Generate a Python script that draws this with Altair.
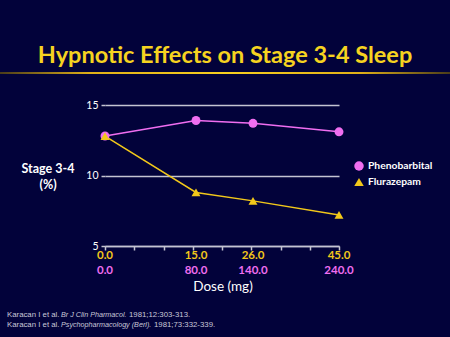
import altair as alt
import pandas as pd

# ---- data ----
flur_dose = [0.0, 15.0, 26.0, 45.0]
pheno_dose = [0.0, 80.0, 140.0, 240.0]
pheno_vals = [12.8, 13.9, 13.7, 13.1]
flur_vals = [12.8, 8.8, 8.2, 7.2]
series_names = ["Phenobarbital", "Flurazepam"]
y_ticks = [5, 10, 15]
x_minor_ticks = list(range(9))
title_text = "Hypnotic Effects on Stage 3-4 Sleep"
y_title = ["Stage 3-4", "(%)"]
x_title = "Dose (mg)"
ref1 = ["Karacan I et al.", "Br J Clin Pharmacol.", "1981;12:303-313."]
ref2 = ["Karacan I et al.", "Psychopharmacology (Berl).", "1981;73:332-339."]

PINK = "#f06ef0"
YELLOW = "#f2c81a"
TITLE_YELLOW = "#f6d320"
BG = "#02023a"
GRID = "#c4c4d2"
FONT = "Lato"
W, H = 234, 141

rows = []
for d, v in zip(flur_dose, pheno_vals):
    rows.append({"pos": d, "series": series_names[0], "value": v})
for d, v in zip(flur_dose, flur_vals):
    rows.append({"pos": d, "series": series_names[1], "value": v})
df = pd.DataFrame(rows)

lab_df = pd.DataFrame({
    "pos": flur_dose,
    "flur": [f"{d:.1f}" for d in flur_dose],
    "pheno": [f"{d:.1f}" for d in pheno_dose],
})
leg_df = pd.DataFrame({"series": series_names, "idx": list(range(len(series_names)))})

xscale = alt.Scale(domain=[0, 15, 26, 45], range=[0, 91, 148, 234], nice=False, zero=False)
yscale = alt.Scale(domain=[5, 15], nice=False, zero=False)
cscale = alt.Scale(domain=series_names, range=[PINK, YELLOW])
sscale = alt.Scale(domain=series_names, range=["circle", "triangle-up"])
legy = alt.Scale(domain=[0, 1], range=[61, 77], nice=False, zero=False)

yaxis = alt.Axis(values=y_ticks, grid=True, gridColor=GRID, gridWidth=1.5, domain=False,
                 tickSize=4, tickColor=GRID, tickWidth=1.5, labelColor="white",
                 labelFontSize=10.5, labelFont=FONT, labelPadding=3, title=None)

lines = alt.Chart(df).mark_line(strokeWidth=1.5).encode(
    x=alt.X("pos:Q", scale=xscale, axis=None),
    y=alt.Y("value:Q", scale=yscale, axis=yaxis),
    stroke=alt.Stroke("series:N", scale=cscale, legend=None),
    detail="series:N",
)

points = alt.Chart(df).mark_point(filled=True, opacity=1, size=80).encode(
    x=alt.X("pos:Q", scale=xscale, axis=None),
    y=alt.Y("value:Q", scale=yscale, axis=None),
    color=alt.Color("series:N", scale=cscale, legend=None),
    shape=alt.Shape("series:N", scale=sscale, legend=None),
)

leg_pts = alt.Chart(leg_df).mark_point(filled=True, opacity=1, size=90).encode(
    x=alt.value(254),
    y=alt.Y("idx:Q", scale=legy, axis=None),
    color=alt.Color("series:N", scale=cscale, legend=None),
    shape=alt.Shape("series:N", scale=sscale, legend=None),
)
leg_txt = alt.Chart(leg_df).mark_text(align="left", color="white", fontSize=10.3, fontWeight="bold",
                                      font=FONT).encode(
    x=alt.value(263),
    y=alt.Y("idx:Q", scale=legy, axis=None),
    text="series:N",
)

ticks = alt.Chart(pd.DataFrame({"t": x_minor_ticks})).mark_point(opacity=0).encode(
    x=alt.X("t:Q", scale=alt.Scale(domain=[0, 8], nice=False, zero=False),
            axis=alt.Axis(values=x_minor_ticks, orient="bottom", labels=False, tickSize=4,
                          tickColor=GRID, tickWidth=1.5, domainColor=GRID, domainWidth=1.5,
                          grid=False, title=None)),
    y=alt.value(H),
)

flur_labels = alt.Chart(lab_df).mark_text(color=YELLOW, fontSize=11.5, fontWeight="bold",
                                          font=FONT).encode(
    x=alt.X("pos:Q", scale=xscale, axis=None), y=alt.value(151), text="flur:N")
pheno_labels = alt.Chart(lab_df).mark_text(color=PINK, fontSize=11.5, fontWeight="bold",
                                           font=FONT).encode(
    x=alt.X("pos:Q", scale=xscale, axis=None), y=alt.value(166), text="pheno:N")

one = pd.DataFrame({"a": [0]})

title = alt.Chart(one).mark_text(text=title_text, color=TITLE_YELLOW, fontSize=23.5, fontWeight="bold",
                                 font=FONT).encode(x=alt.value(120), y=alt.value(-49))

bar = alt.Chart(one).mark_rect(fill=alt.LinearGradient(
    gradient="linear", x1=0, x2=1, y1=0, y2=0,
    stops=[alt.GradientStop(color="#4a3c1a", offset=0),
           alt.GradientStop(color="#e0b018", offset=0.2),
           alt.GradientStop(color="#f8d020", offset=0.5),
           alt.GradientStop(color="#e0b018", offset=0.8),
           alt.GradientStop(color="#4a3c1a", offset=1)])).encode(
    x=alt.value(-105), x2=alt.value(345), y=alt.value(-33), y2=alt.value(-31))

ytitle = alt.Chart(one).mark_text(text=y_title, color="white", fontSize=12.5, fontWeight="bold",
                                  font=FONT, lineHeight=16).encode(
    x=alt.value(-57), y=alt.value(64))

xtitle = alt.Chart(one).mark_text(text=x_title, color="white", fontSize=13.5,
                                  font=FONT).encode(x=alt.value(118), y=alt.value(182))

FOOT = "#c8c8d8"
def foot(txt, x, y, italic=False):
    return alt.Chart(one).mark_text(text=txt, color=FOOT, fontSize=7.2 if italic else 7.8,
                                    font="Liberation Sans", align="left",
                                    fontStyle="italic" if italic else "normal").encode(
        x=alt.value(x), y=alt.value(y))

foots = [
    foot(ref1[0], -98, 210), foot(ref1[1], -44, 210, True), foot(ref1[2], 24, 210),
    foot(ref2[0], -98, 220), foot(ref2[1], -44, 220, True), foot(ref2[2], 49, 220),
]

chart = alt.layer(ticks, lines, points, leg_pts, leg_txt, flur_labels, pheno_labels, title, bar,
                  ytitle, xtitle, *foots).resolve_scale(x="independent", y="independent").properties(
    width=W, height=H,
    autosize=alt.AutoSizeParams(type="none"),
    padding={"left": 105, "top": 105, "right": 450 - 105 - W, "bottom": 337 - 105 - H},
    background=BG,
).configure_view(stroke=None)

chart.save("out.html", embed_options={"renderer": "svg", "actions": False})
